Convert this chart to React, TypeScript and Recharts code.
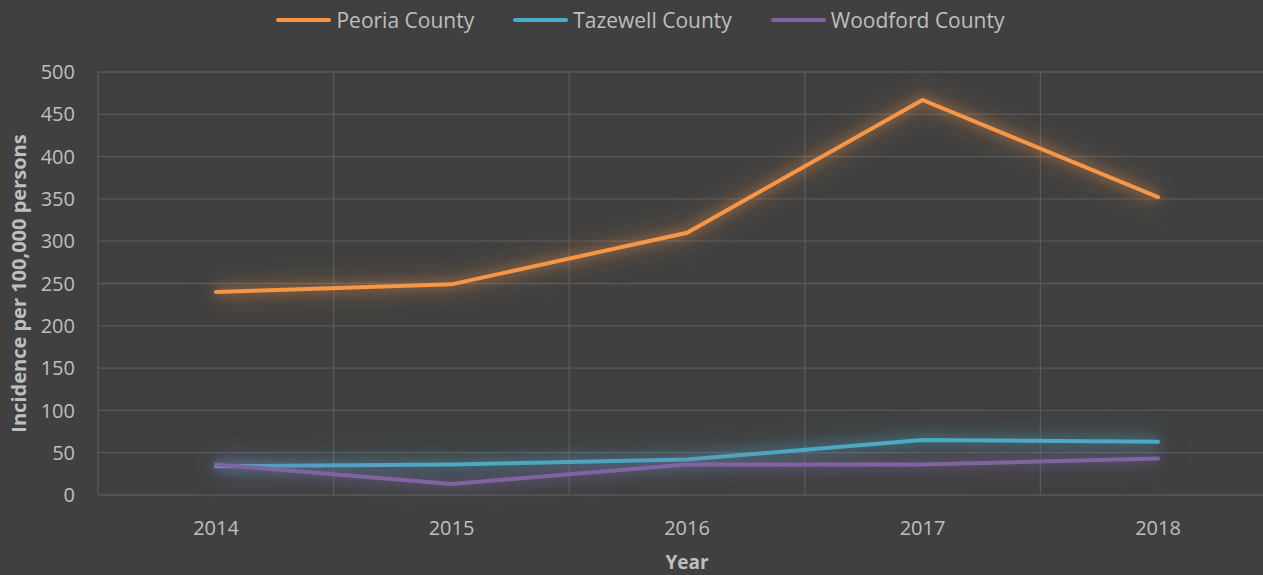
import React from "react";
import {
  LineChart,
  Line,
  XAxis,
  YAxis,
  CartesianGrid,
  Legend,
} from "recharts";

const years = ["2014", "2015", "2016", "2017", "2018"];
const peoria = [240, 249, 310, 467, 352];
const tazewell = [34, 36, 42, 65, 63];
const woodford = [36, 13, 36, 36, 43];
const yTicks = [0, 50, 100, 150, 200, 250, 300, 350, 400, 450, 500];

const SERIES = [
  { key: "peoria", name: "Peoria County", color: "#f79646", glow: "rgba(247,150,70,0.6)" },
  { key: "tazewell", name: "Tazewell County", color: "#4bacc6", glow: "rgba(75,172,198,0.6)" },
  { key: "woodford", name: "Woodford County", color: "#8064a2", glow: "rgba(128,100,162,0.6)" },
];

const data = years.map((year, i) => ({
  year,
  peoria: peoria[i],
  tazewell: tazewell[i],
  woodford: woodford[i],
}));

const FONT = "'Open Sans', sans-serif";
const TEXT = "#bfbfbf";
const GRID = "#595959";

// legend drawn as html so spacing matches the office-style legend
const LegendContent = () => (
  <div style={{ display: "flex", justifyContent: "center", gap: 39, fontFamily: FONT, fontSize: 21, color: TEXT, height: 26, alignItems: "center" }}>
    {SERIES.map((s) => (
      <div key={s.key} style={{ display: "flex", alignItems: "center" }}>
        <span style={{ display: "inline-block", width: 55, height: 4, borderRadius: 2, background: s.color, marginRight: 5 }} />
        <span>{s.name}</span>
      </div>
    ))}
  </div>
);

// rotated y axis title, sits near the left edge
const YTitle = ({ viewBox }: any) => {
  const cy = viewBox.y + viewBox.height / 2;
  return (
    <text
      x={18}
      y={cy}
      transform={`rotate(-90, 18, ${cy})`}
      textAnchor="middle"
      dominantBaseline="central"
      fill={TEXT}
      fontSize={20}
      fontWeight="bold"
      fontFamily={FONT}
    >
      Incidence per 100,000 persons
    </text>
  );
};

export default function App() {
  return (
    <div style={{ position: "fixed", left: 0, top: 0, width: 1263, height: 575, overflow: "hidden", background: "#404040" }}>
      <style>
        {SERIES.map(
          (s) => `.line-${s.key} path { filter: drop-shadow(0 0 6px ${s.glow}) drop-shadow(0 0 12px ${s.glow}); }`
        ).join("\n")}
      </style>
      <LineChart
        width={1290}
        height={575}
        data={data}
        margin={{ top: 46, right: 14, bottom: 0, left: 0 }}
      >
        <CartesianGrid
          stroke={GRID}
          strokeWidth={1.3}
          verticalCoordinatesGenerator={({ offset }: any) =>
            [0, 1, 2, 3, 4, 5].map((i) => offset.left + (i * offset.width) / years.length)
          }
        />
        <XAxis
          dataKey="year"
          height={80}
          padding={{ left: 118, right: 118 }}
          axisLine={false}
          tickLine={false}
          tick={{ fill: TEXT, fontSize: 20, fontFamily: FONT }}
          tickMargin={20}
          label={{ value: "Year", position: "insideBottom", offset: 6, fill: TEXT, fontSize: 19, fontWeight: "bold", fontFamily: FONT }}
        />
        <YAxis
          domain={[0, 500]}
          ticks={yTicks}
          width={98}
          axisLine={false}
          tickLine={false}
          tickMargin={17}
          tick={{ fill: TEXT, fontSize: 20, fontFamily: FONT }}
          label={<YTitle />}
        />
        <Legend verticalAlign="top" wrapperStyle={{ top: 7, left: 0, width: 1281 }} content={<LegendContent />} />
        {SERIES.map((s) => (
          <Line
            key={s.key}
            className={`line-${s.key}`}
            type="linear"
            dataKey={s.key}
            name={s.name}
            stroke={s.color}
            strokeWidth={4}
            strokeLinecap="round"
            dot={false}
            activeDot={false}
            isAnimationActive={false}
          />
        ))}
      </LineChart>
    </div>
  );
}
